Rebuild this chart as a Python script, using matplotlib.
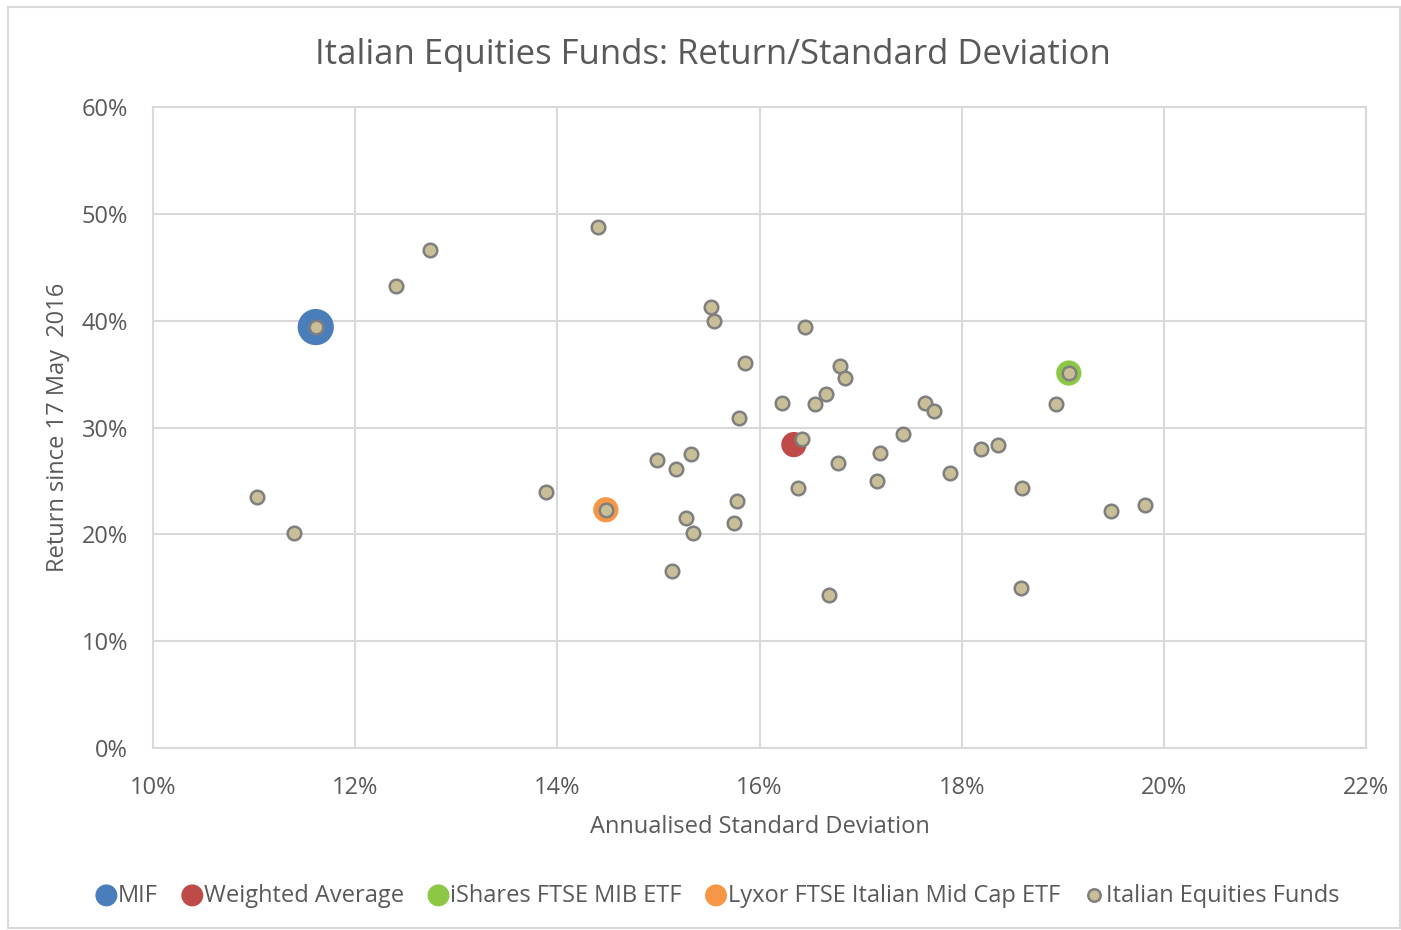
import matplotlib.pyplot as plt
from matplotlib.ticker import FuncFormatter
from matplotlib.patches import Rectangle

plt.rcParams['font.family'] = ['Open Sans', 'DejaVu Sans']

# annualised std dev (%) and return since 17 May 2016 (%)
fund_sd = [11.03, 11.39, 11.61, 12.40, 12.74, 13.89, 14.40, 14.48, 14.99, 15.17,
           15.32, 15.27, 15.34, 15.13, 15.52, 15.55, 15.86, 15.80, 15.78, 15.75,
           16.22, 16.45, 16.42, 16.38, 16.55, 16.66, 16.80, 16.85, 16.78, 16.69,
           17.16, 17.19, 17.42, 17.64, 17.73, 17.88, 18.19, 18.36, 18.60, 18.59,
           18.93, 19.06, 19.48, 19.81]
fund_ret = [23.5, 20.1, 39.4, 43.2, 46.6, 24.0, 48.8, 22.3, 27.0, 26.1,
            27.5, 21.5, 20.1, 16.6, 41.3, 40.0, 36.0, 30.9, 23.1, 21.1,
            32.3, 39.4, 28.9, 24.3, 32.2, 33.1, 35.8, 34.6, 26.7, 14.3,
            25.0, 27.6, 29.4, 32.3, 31.5, 25.7, 28.0, 28.4, 24.3, 15.0,
            32.2, 35.1, 22.2, 22.7]

names = ['MIF', 'Weighted Average', 'iShares FTSE MIB ETF', 'Lyxor FTSE Italian Mid Cap ETF']
hl_sd = [11.61, 16.34, 19.06, 14.48]
hl_ret = [39.4, 28.4, 35.1, 22.3]
hl_colors = ['#4A7EBB', '#BE4B48', '#8CC846', '#F79646']
hl_sizes = [680, 330, 330, 330]

fig = plt.figure(figsize=(14.01, 9.30), dpi=100)
fig.patches.append(Rectangle((8 / 1401, 2 / 930), 1392 / 1401, 921 / 930, transform=fig.transFigure,
                             fill=False, edgecolor='#D9D9D9', linewidth=1.5))
ax = fig.add_axes([153 / 1401, (930 - 748) / 930, (1366 - 153) / 1401, (748 - 107) / 930])

for n, x, y, c, s in zip(names, hl_sd, hl_ret, hl_colors, hl_sizes):
    ax.scatter([x], [y], s=s, color=c, edgecolors='none', label=n, zorder=3)
ax.scatter(fund_sd, fund_ret, s=95, color='#C9BF96', edgecolors='#7F7F7F', linewidths=1.8,
           label='Italian Equities Funds', zorder=4)

ax.set_xlim(10, 22)
ax.set_ylim(0, 60)
ax.set_xticks(range(10, 23, 2))
ax.set_yticks(range(0, 61, 10))
pct = FuncFormatter(lambda v, p: f'{v:.0f}%')
ax.xaxis.set_major_formatter(pct)
ax.yaxis.set_major_formatter(pct)
ax.grid(True, color='#D9D9D9', linewidth=1.5)
ax.set_axisbelow(True)
for sp in ax.spines.values():
    sp.set_color('#D9D9D9')
    sp.set_linewidth(1.5)
ax.tick_params(axis='x', length=0, labelsize=17, colors='#595959', pad=20)
ax.tick_params(axis='y', length=0, labelsize=17, colors='#595959', pad=18)

ax.set_xlabel('Annualised Standard Deviation', fontsize=17, color='#595959', labelpad=11)
ax.set_ylabel('Return since 17 May  2016', fontsize=17, color='#595959', labelpad=8)
fig.text(0.509, 0.941, 'Italian Equities Funds: Return/Standard Deviation', ha='center', va='center',
         fontsize=25, color='#595959')

leg = fig.legend(loc='center', bbox_to_anchor=(0.511, 0.037), ncol=5, frameon=False, fontsize=17,
                 handletextpad=-0.1, columnspacing=0.85, markerscale=1.0, handlelength=1.2)
for t in leg.get_texts():
    t.set_color('#595959')
for h in leg.legend_handles[:4]:
    h.set_sizes([250])
leg.legend_handles[4].set_sizes([80])

fig.savefig('out.png', dpi=100)
